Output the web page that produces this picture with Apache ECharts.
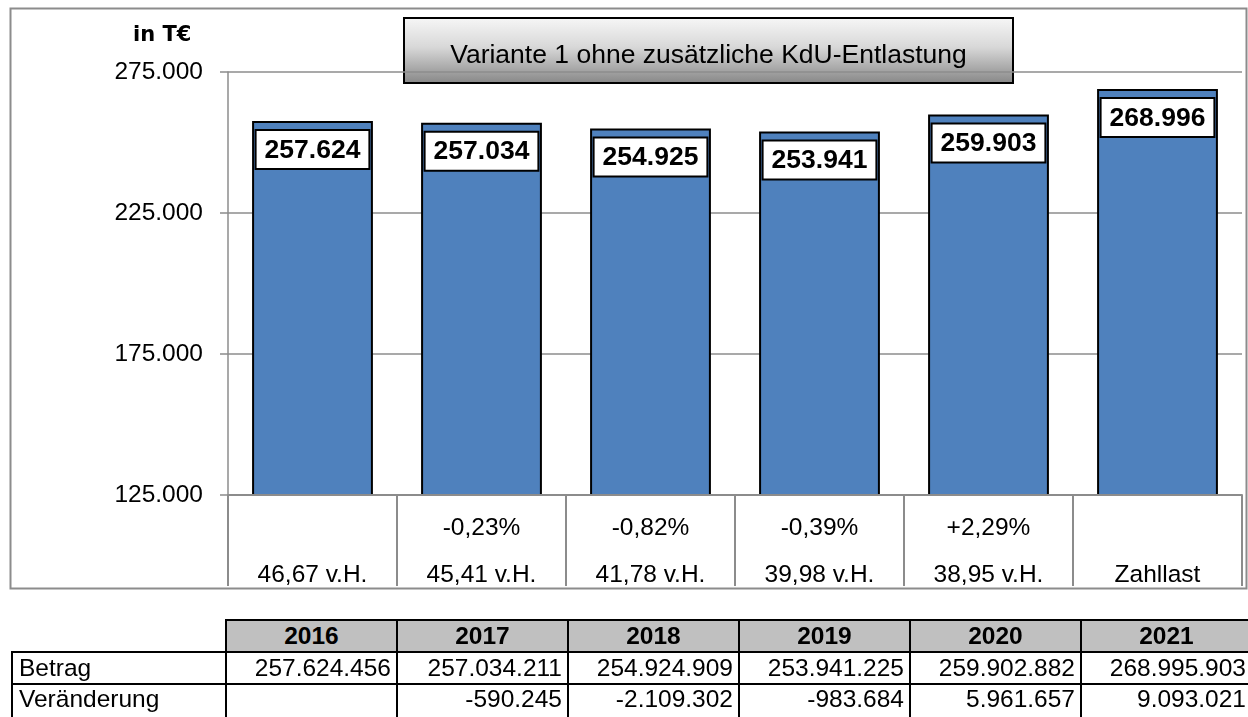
<!DOCTYPE html>
<html>
<head>
<meta charset="utf-8">
<script src="https://cdn.jsdelivr.net/npm/echarts/dist/echarts.min.js"></script>
<style>
  html, body { margin: 0; padding: 0; background: #fff; overflow: hidden; }
  #chart { position: absolute; left: 0; top: 0; width: 1248px; height: 717px; }
  #tbl {
    position: absolute; left: 11px; top: 619px; width: 1240px;
    border-collapse: collapse; table-layout: fixed;
    font-family: "Liberation Sans", Arial, sans-serif; font-size: 24.5px; color: #000;
  }
  #tbl td, #tbl th { border: 2px solid #000; padding: 0 5px; height: 30px; line-height: 28px; white-space: nowrap; overflow: hidden; }
  #tbl th { background: #c0c0c0; font-weight: bold; font-size: 24.5px; text-align: center; }
  #tbl th.blank { background: transparent; border: none; }
  #tbl td { text-align: right; }
  #tbl td.lbl { text-align: left; padding-left: 6px; }
  #tbl tr.last td { height: 36px; vertical-align: top; }
</style>
</head>
<body>
<div id="chart"></div>
<table id="tbl"></table>
<script>
// data
const years = ["2016", "2017", "2018", "2019", "2020", "2021"];
const betrag = [257624456, 257034211, 254924909, 253941225, 259902882, 268995903];
const veraenderung = [null, -590245, -2109302, -983684, 5961657, 9093021];
const changeLabels = ["", "-0,23%", "-0,82%", "-0,39%", "+2,29%", ""];
const shareLabels = ["46,67 v.H.", "45,41 v.H.", "41,78 v.H.", "39,98 v.H.", "38,95 v.H.", "Zahllast"];
const chartTitle = "Variante 1 ohne zusätzliche KdU-Entlastung";
const unitLabel = "in T€";

const FONT = '"Liberation Sans", Arial, sans-serif';

// German number format: 257624 -> 257.624
function fmtDe(n) {
  const s = Math.round(Math.abs(n)).toString().replace(/\B(?=(\d{3})+(?!\d))/g, ".");
  return (n < 0 ? "-" : "") + s;
}

// values in T€
const valuesT = betrag.map((v) => v / 1000);

const chart = echarts.init(document.getElementById("chart"));

const option = {
  animation: false,
  title: {
    text: unitLabel,
    left: 133,
    top: 25,
    padding: 0,
    textStyle: { fontFamily: "DejaVu Sans", fontWeight: "bold", fontSize: 21, color: "#000" },
  },
  graphic: [
    {
      type: "rect",
      left: 8,
      top: 6,
      shape: { width: 1236, height: 580 },
      style: { fill: "none", stroke: "#8c8c8c", lineWidth: 2 },
      z: 0,
    },
    {
      type: "group",
      left: 403,
      top: 17,
      z: 10,
      children: [
        {
          type: "rect",
          shape: { width: 609, height: 65 },
          style: {
            fill: {
              type: "linear", x: 0, y: 0, x2: 0, y2: 1,
              colorStops: [
                { offset: 0, color: "#f7f7f7" },
                { offset: 0.45, color: "#d8d8d8" },
                { offset: 1, color: "#868686" },
              ],
            },
            stroke: "#000",
            lineWidth: 2,
          },
        },
        {
          type: "text",
          x: 304.5,
          y: 38,
          style: {
            text: chartTitle,
            fontFamily: FONT,
            fontSize: 26.5,
            fill: "#000",
            align: "center",
            verticalAlign: "middle",
          },
        },
      ],
    },
  ],
  grid: {
    left: 228,
    right: 6,
    top: 72,
    bottom: 222,
  },
  xAxis: {
    type: "category",
    data: years,
    z: 3,
    axisLine: { lineStyle: { color: "#8c8c8c", width: 2 } },
    axisTick: {
      show: true,
      interval: 0,
      length: 91,
      lineStyle: { color: "#8c8c8c", width: 2 },
    },
    axisLabel: {
      interval: 0,
      margin: 10,
      formatter: function (val, idx) {
        return "{a|" + (changeLabels[idx] || " ") + "}\n{b|" + shareLabels[idx] + "}";
      },
      rich: {
        a: { fontFamily: FONT, fontSize: 24.5, lineHeight: 47, color: "#000" },
        b: { fontFamily: FONT, fontSize: 24.5, lineHeight: 47, color: "#000" },
      },
    },
  },
  yAxis: {
    type: "value",
    min: 125000,
    max: 275000,
    interval: 50000,
    axisLine: { show: true, lineStyle: { color: "#8c8c8c", width: 1.5 } },
    axisTick: { show: true, length: 8, lineStyle: { color: "#8c8c8c", width: 1.5 } },
    splitLine: { lineStyle: { color: "#8c8c8c", width: 1.5 } },
    axisLabel: {
      margin: 25,
      fontFamily: FONT,
      fontSize: 24.5,
      color: "#000",
      formatter: (v) => fmtDe(v),
    },
  },
  series: [
    {
      type: "bar",
      data: valuesT,
      barWidth: "71.5%",
      itemStyle: { color: "#4f81bd", borderColor: "#000", borderWidth: 2 },
      label: {
        show: true,
        position: "insideTop",
        distance: 10,
        formatter: (p) => fmtDe(p.value),
        fontFamily: FONT,
        fontWeight: "bold",
        fontSize: 26.5,
        lineHeight: 27,
        color: "#000",
        backgroundColor: "#fff",
        borderColor: "#000",
        borderWidth: 2,
        padding: [6, 8, 4, 8],
      },
    },
  ],
};

chart.setOption(option);

// value table below the chart
const tbl = document.getElementById("tbl");
let html = '<colgroup><col style="width:214px">';
years.forEach(() => (html += '<col style="width:171px">'));
html += "</colgroup>";
html += '<tr><th class="blank"></th>' + years.map((y) => "<th>" + y + "</th>").join("") + "</tr>";
html += '<tr><td class="lbl">Betrag</td>' + betrag.map((v) => "<td>" + fmtDe(v) + "</td>").join("") + "</tr>";
html +=
  '<tr class="last"><td class="lbl">Veränderung</td>' +
  veraenderung.map((v) => "<td>" + (v === null ? "" : fmtDe(v)) + "</td>").join("") +
  "</tr>";
tbl.innerHTML = html;

window.addEventListener("resize", function () {
  chart.resize();
});
</script>
</body>
</html>
